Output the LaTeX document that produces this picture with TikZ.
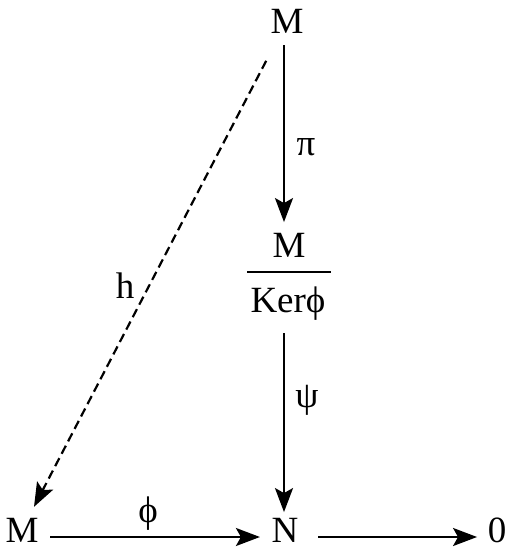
\documentclass[tikz,border=0pt]{standalone}
\usepackage{fontspec}
\setmainfont{Liberation Serif}
\usetikzlibrary{arrows.meta}
\tikzset{
  lbl/.style={inner sep=0pt, font=\fontsize{37}{40}\selectfont},
  txt/.style={inner sep=0pt, anchor=base, font=\fontsize{37}{40}\selectfont},
  arr/.style={line width=2.2pt, -{Stealth[length=24pt,width=18pt,inset=5pt]}},
  dasharr/.style={arr, dash pattern=on 9pt off 5pt},
  fracbar/.style={fill=black, inner sep=0pt, minimum width=84pt, minimum height=2.2pt}
}
\begin{document}
\begin{tikzpicture}[x=1pt,y=-1pt]
\useasboundingbox (0,0) rectangle (511,552);
% objects
\node[txt] (top) at (287,33) {M};
\node[txt] (fnum) at (289,257) {M};
\node[fracbar] (bar) at (289,272) {};
\node[txt] (fden) at (288,312) {Kerϕ};
\node[txt] (mb) at (22,542) {M};
\node[txt] (n) at (285,542) {N};
\node[txt] (z) at (497,542) {0};
% labels
\node[lbl] (lpi) at (306,147) {π};
\node[lbl] (lpsi) at (307,400) {ψ};
\node[lbl,anchor=base] (lh) at (125,298) {h};
\node[lbl] (lphi) at (148,514) {ϕ};
% arrows
\draw[arr, shorten <=12pt, shorten >=10.5pt] ([xshift=-3pt]top.south) -- ([xshift=-5pt]fnum.north);
\draw[arr, shorten <=13pt, shorten >=5.5pt] ([xshift=-4pt]fden.south) -- ([xshift=-1pt]n.north);
\draw[dasharr, shorten <=45pt, shorten >=26pt] (top.center) -- (mb.center);
\draw[arr, shorten <=11.5pt, shorten >=11.5pt] ([yshift=5pt]mb.base east) -- ([yshift=5pt]n.base west);
\draw[arr, shorten <=19.5pt, shorten >=10.5pt] ([yshift=5pt]n.base east) -- ([yshift=5pt]z.base west);
\end{tikzpicture}
\end{document}
